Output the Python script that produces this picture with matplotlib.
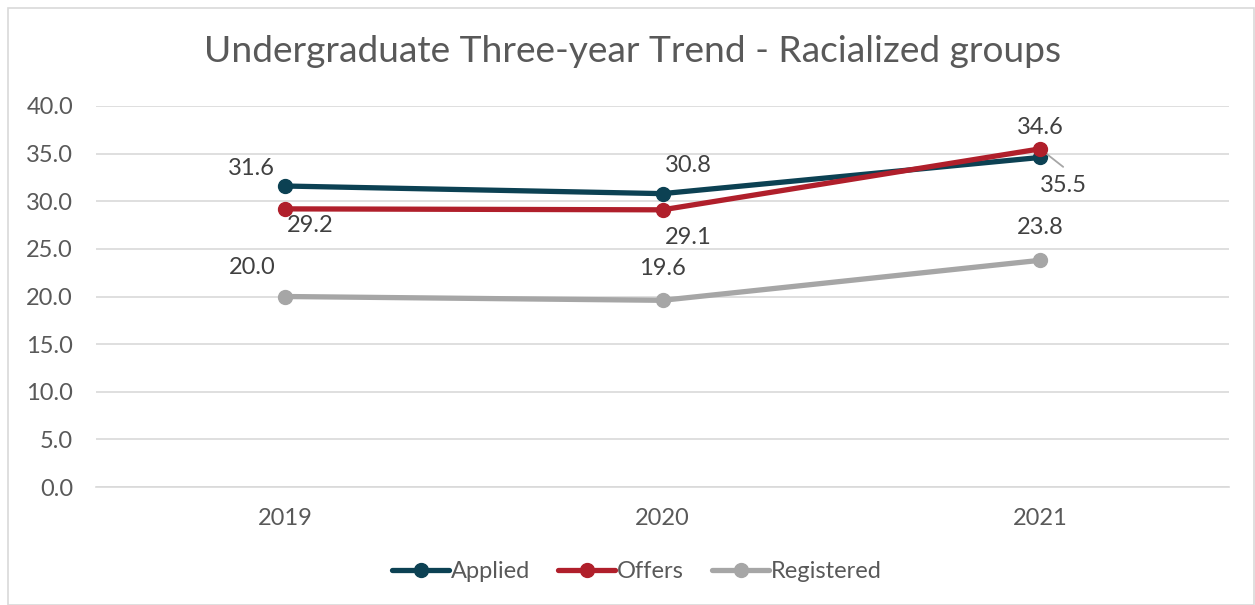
import matplotlib
matplotlib.use("Agg")
import matplotlib.pyplot as plt
from matplotlib.patches import Rectangle

years = ["2019", "2020", "2021"]
applied = [31.6, 30.8, 34.6]
offers = [29.2, 29.1, 35.5]
registered = [20.0, 19.6, 23.8]
yticks = [0, 5, 10, 15, 20, 25, 30, 35, 40]

plt.rcParams['font.family'] = ['Lato', 'DejaVu Sans']

fig = plt.figure(figsize=(12.55, 6.05), dpi=100)
ax = fig.add_axes([96/1255, 118/605, 1133/1255, 381/605])

c_app = "#0C4153"
c_off = "#B01F2B"
c_reg = "#A6A6A6"
txt = "#595959"

x = list(range(len(years)))
lw = 3.8
ms = 10
ax.plot(x, registered, color=c_reg, lw=lw, marker='o', ms=ms, label="Registered", zorder=3, solid_capstyle='round')
ax.plot(x, applied, color=c_app, lw=lw, marker='o', ms=ms, label="Applied", zorder=4, solid_capstyle='round')
ax.plot(x, offers, color=c_off, lw=lw, marker='o', ms=ms, label="Offers", zorder=5, solid_capstyle='round')

ax.set_xlim(-0.5, 2.5)
ax.set_ylim(0, 40)
ax.set_yticks(yticks)
ax.set_yticklabels([f"{v:.1f}" for v in yticks])
ax.set_xticks(x)
ax.set_xticklabels(years)
ax.grid(axis='y', color="#D9D9D9", lw=1.2)
ax.set_axisbelow(True)
for s in ['top', 'right', 'left']:
    ax.spines[s].set_visible(False)
ax.spines['bottom'].set_color("#D9D9D9")
ax.spines['bottom'].set_linewidth(1.2)
ax.tick_params(axis='both', length=0, labelsize=17, labelcolor=txt)
ax.tick_params(axis='y', pad=16.5)
ax.tick_params(axis='x', pad=15)

fs = 17
lab_color = "#404040"
def lab(xi, yv, dx, dy):
    ax.annotate(f"{yv:.1f}", (xi, yv), xytext=(dx, dy), textcoords='offset pixels',
                ha='center', va='center', fontsize=fs, color=lab_color, zorder=6)

offs_app = [(-33, 18), (26, 28), (0, 30)]
offs_off = [(25, -17), (26, -28), (23, -37)]
offs_reg = [(-33, 29), (0, 32), (0, 33)]
for i in x:
    lab(i, applied[i], *offs_app[i])
    lab(i, registered[i], *offs_reg[i])
    lab(i, offers[i], *offs_off[i])
# leader line for 2021 offers label
ax.annotate("", (2, offers[2]), xytext=(23, -18), textcoords='offset pixels', zorder=4.5,
            arrowprops=dict(arrowstyle='-', color="#A6A6A6", lw=1.3, shrinkA=0, shrinkB=0))

h, l = ax.get_legend_handles_labels()
order = [1, 2, 0]
leg = fig.legend([h[i] for i in order], [l[i] for i in order], loc='center', bbox_to_anchor=(637/1255, 1 - 572/605),
                 ncol=3, frameon=False, fontsize=17, handlelength=2.4, handletextpad=0.08, columnspacing=1.2)
for t in leg.get_texts():
    t.set_color(txt)

fig.text(633/1255, 1 - 52/605, "Undergraduate Three-year Trend - Racialized groups", ha='center', va='center',
         fontsize=26.7, color=txt)

fig.patches.append(Rectangle((8/1255, 0), 1246/1255, 597/605, transform=fig.transFigure,
                             fill=False, edgecolor="#D9D9D9", lw=1.2))

fig.savefig("out.png", dpi=100)
